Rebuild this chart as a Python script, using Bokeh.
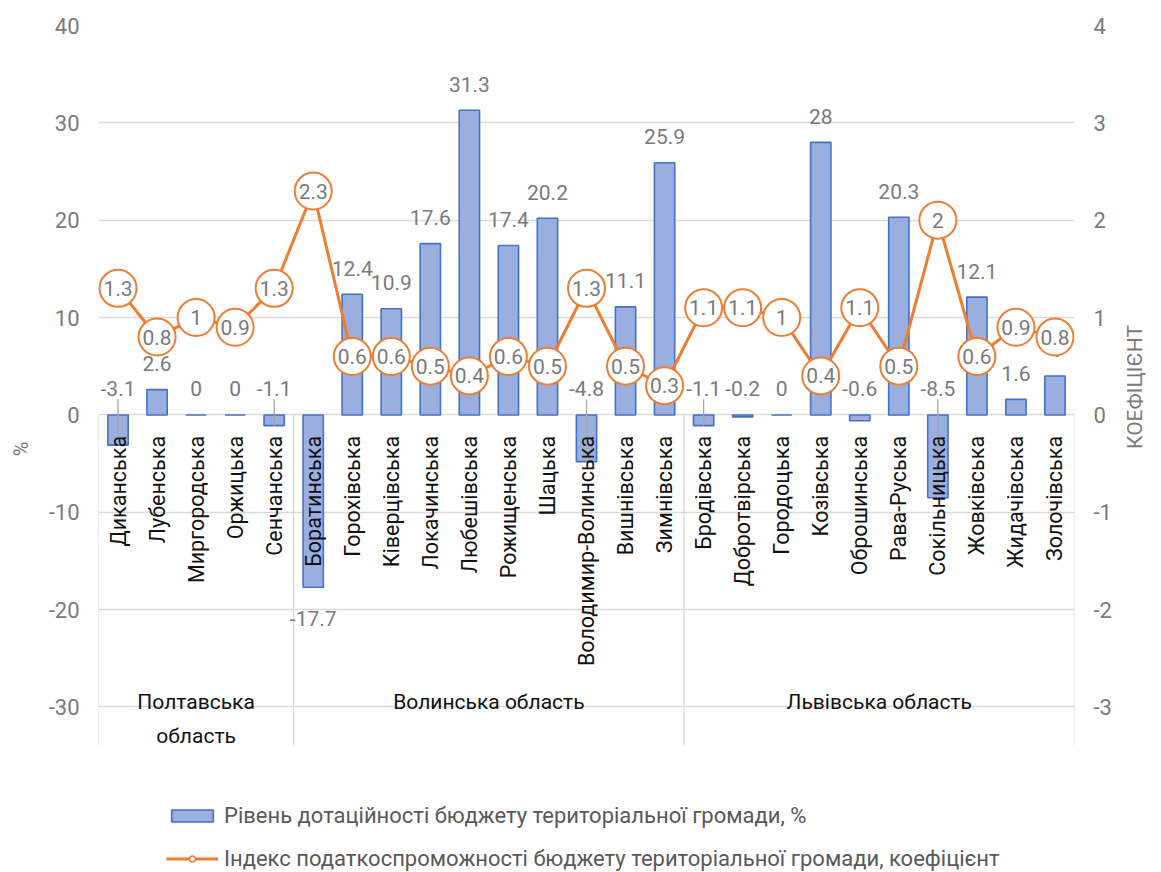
import numpy as np
from bokeh.plotting import figure
from bokeh.models import (Range1d, LinearAxis, FixedTicker, ColumnDataSource,
                          Legend, LegendItem)
from bokeh.core.properties import value
from bokeh.embed import file_html
from bokeh.resources import INLINE

# ---------------- data ----------------
region_names = ["Полтавська\nобласть", "Волинська область", "Львівська область"]
region_sizes = [5, 10, 10]
communities = ["Диканська", "Лубенська", "Миргородська", "Оржицька", "Сенчанська",
               "Боратинська", "Горохівська", "Ківерцівська", "Локачинська", "Любешівська",
               "Рожищенська", "Шацька", "Володимир-Волинська", "Вишнівська", "Зимнівська",
               "Бродівська", "Добротвірська", "Городоцька", "Козівська", "Оброшинська",
               "Рава-Руська", "Сокільницька", "Жовківська", "Жидачівська", "Золочівська"]
subsidy = [-3.1, 2.6, 0, 0, -1.1,
           -17.7, 12.4, 10.9, 17.6, 31.3, 17.4, 20.2, -4.8, 11.1, 25.9,
           -1.1, -0.2, 0, 28, -0.6, 20.3, -8.5, 12.1, 1.6, 4]
tax_index = [1.3, 0.8, 1, 0.9, 1.3,
             2.3, 0.6, 0.6, 0.5, 0.4, 0.6, 0.5, 1.3, 0.5, 0.3,
             1.1, 1.1, 1, 0.4, 1.1, 0.5, 2, 0.6, 0.9, 0.8]
left_ticks = [-30, -20, -10, 0, 10, 20, 30, 40]
right_ticks = [-3, -2, -1, 0, 1, 2, 3, 4]
left_title = "%"
right_title = "КОЕФІЦІЄНТ"
bar_name = "Рівень дотаційності бюджету територіальної громади, %"
line_name = "Індекс податкоспроможності бюджету територіальної громади, коефіцієнт"

# ---------------- styling ----------------
FONT = "Roboto"
GRAY = "#7a7a7a"
GRID = "#d9d9d9"
BAR_FILL = "#9aaee0"
BAR_LINE = "#4472c4"
ORANGE = "#ed7d31"

W, H = 1161, 872
BL, BR, BT = 98, 86, 25          # borders around the frame (px)
n = len(communities)
xs = np.arange(n) + 0.5
y_top = 40
cat_bottom = -33.93      # lower end of the category-axis area
frame_bottom = -47.0     # frame continues down to hold the legend
ratio = 10.0             # left units per right-axis unit

p = figure(width=W, height=H, output_backend="svg", toolbar_location=None,
           x_range=Range1d(0, n), y_range=Range1d(frame_bottom, y_top),
           x_axis_location=None,
           min_border_left=BL, min_border_right=BR, min_border_top=BT,
           min_border_bottom=0)
p.outline_line_color = None
p.background_fill_color = "white"
p.border_fill_color = "white"

p.extra_y_ranges = {"y2": Range1d(frame_bottom / ratio, y_top / ratio)}


def plain_axis(a, size="22px"):
    a.axis_line_color = None
    a.major_tick_line_color = None
    a.minor_tick_line_color = None
    a.major_tick_out = 0
    a.major_tick_in = 0
    a.minor_tick_out = 0
    a.minor_tick_in = 0
    a.major_label_text_font = FONT
    a.major_label_text_font_size = size
    a.major_label_text_color = GRAY
    a.axis_label_text_font = FONT
    a.axis_label_text_font_style = "normal"
    a.axis_label_text_color = GRAY


# left value axis
ax = p.yaxis[0]
ax.ticker = FixedTicker(ticks=left_ticks)
ax.major_label_overrides = {t: f"{t:g}" for t in left_ticks}
plain_axis(ax)
ax.major_label_standoff = 19

# right value axis
rax = LinearAxis(y_range_name="y2", ticker=FixedTicker(ticks=right_ticks))
rax.major_label_overrides = {t: f"{t:g}" for t in right_ticks}
plain_axis(rax)
rax.major_label_standoff = 19
p.add_layout(rax, "right")

# axis titles on tick-less outer axes
px_y = (H - BT) / (y_top - frame_bottom)  # px per left-axis unit
lc = y_top - (300 - BT) / px_y
rc = y_top - (320 - BT) / px_y
tl = LinearAxis(ticker=FixedTicker(ticks=[]), bounds=(lc - 1, lc + 1),
                axis_label=left_title)
plain_axis(tl)
tl.axis_label_text_font_size = "20px"
tl.axis_label_standoff = 13
p.add_layout(tl, "left")

tr = LinearAxis(ticker=FixedTicker(ticks=[]), bounds=(rc - 1, rc + 1),
                axis_label=right_title)
plain_axis(tr)
tr.axis_label_text_font_size = "21px"
tr.axis_label_standoff = 20
try:
    tr.axis_label_orientation = np.pi / 2
except Exception:
    pass
p.add_layout(tr, "right")

p.ygrid.ticker = FixedTicker(ticks=left_ticks)
p.ygrid.grid_line_color = GRID
p.ygrid.grid_line_width = 1.3
p.xgrid.grid_line_color = None

# category-axis separators
bounds = np.concatenate([[0], np.cumsum(region_sizes)]).astype(float)
p.segment(x0=bounds, y0=0, x1=bounds, y1=cat_bottom, line_color=GRID, line_width=1.3)

# bars
src = ColumnDataSource(dict(x=xs, top=subsidy, name=communities))
bars = p.vbar(x="x", top="top", bottom=0, width=0.52, source=src,
              fill_color=BAR_FILL, line_color=BAR_LINE, line_width=1.6)

# bar labels
sub = np.array(subsidy, dtype=float)
above = sub > -10
lab_y = np.where(above, np.maximum(sub, 0), sub)
lab_off = np.where(above, -26, 31)
p.text(x=xs, y=lab_y, y_offset=lab_off, text=[f"{v:g}" for v in subsidy],
       text_align="center", text_baseline="middle",
       text_font=value(FONT), text_font_size="21px", text_color=GRAY)

# leader lines for negative labels moved above the axis
lead = (sub < -1) & above
p.segment(x0=xs[lead], y0=1.6, x1=xs[lead], y1=sub[lead], line_color="#a6a6a6",
          line_width=1.3)

# category labels (rotated)
p.text(x=xs, y=0, y_offset=21, text=communities, angle=np.pi / 2,
       text_align="right", text_baseline="middle",
       text_font=value(FONT), text_font_size="21.5px", text_color="#111111")

# region labels
centers = (bounds[:-1] + bounds[1:]) / 2
p.text(x=centers, y=-30, y_offset=-17, text=region_names,
       text_align="center", text_baseline="top", text_line_height=1.4,
       text_font=value(FONT), text_font_size="21px", text_color="#111111")

# line series
line = p.line(x=xs, y=tax_index, y_range_name="y2", line_color=ORANGE, line_width=3)
small = p.scatter(x=xs, y=tax_index, y_range_name="y2", marker="circle", size=9,
                  fill_color="white", line_color=ORANGE, line_width=1.5)
p.scatter(x=xs, y=tax_index, y_range_name="y2", marker="circle", size=37,
          fill_color="white", line_color=ORANGE, line_width=2)
p.text(x=xs, y=tax_index, y_range_name="y2", text=[f"{v:g}" for v in tax_index],
       text_align="center", text_baseline="middle",
       text_font=value(FONT), text_font_size="21px", text_color=GRAY)

legend = Legend(items=[LegendItem(label=bar_name, renderers=[bars]),
                       LegendItem(label=line_name, renderers=[line, small])],
                location=(68, 1), orientation="vertical",
                glyph_width=52, glyph_height=15, label_height=26,
                label_standoff=6, spacing=17, padding=0, margin=0,
                label_text_font=FONT, label_text_font_size="22px",
                label_text_color="#595959",
                border_line_color=None, background_fill_alpha=0)
p.add_layout(legend)

open("out.html", "w").write(file_html(p, INLINE))
